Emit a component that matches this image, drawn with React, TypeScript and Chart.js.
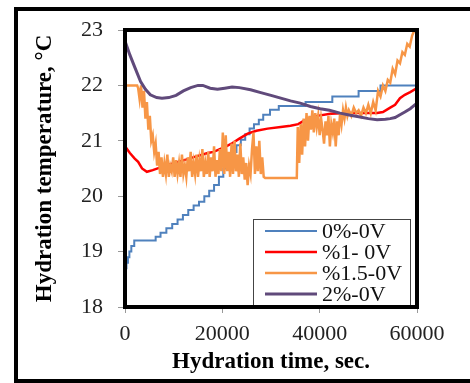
import React, { useEffect, useRef } from "react";
import { Chart, registerables } from "chart.js";

Chart.register(...registerables);

const seriesLabels = ["0%-0V", "%1- 0V", "%1.5-0V", "2%-0V"];
const seriesColors = ["#4f81bd", "#ff0000", "#f79646", "#604a7b"];
const seriesWidths = [2, 2.5, 2.5, 3];

const xTitle = "Hydration time, sec.";
const yTitle = "Hydration temperature, °C";

// 0%-0V (stepped levels)
const blueT = [0, 300, 600, 900, 1300, 1900, 6300, 7300, 8500, 9700, 10800, 11900, 13000, 14100, 15200, 16300, 17300, 18300, 19300, 20200, 21100, 22000, 22900, 23800, 24700, 25600, 26500, 27500, 28400, 29800, 31600, 37100, 42600, 48000, 52500, 60000];
const blueV = [18.7, 18.8, 18.9, 19.0, 19.1, 19.2, 19.27, 19.34, 19.42, 19.5, 19.58, 19.66, 19.75, 19.83, 19.9, 20.0, 20.1, 20.2, 20.35, 20.5, 20.65, 20.8, 20.92, 21.02, 21.12, 21.22, 21.3, 21.38, 21.47, 21.56, 21.63, 21.7, 21.8, 21.9, 22.0, 22.0];

// %1- 0V
const redT = [0, 1000, 2000, 2700, 3500, 4500, 5700, 7600, 9000, 10900, 12500, 14300, 15500, 17000, 18200, 19500, 20800, 22100, 23500, 25200, 27000, 29300, 32000, 34000, 35600, 36700, 38100, 39500, 42200, 45700, 48300, 51800, 53000, 54500, 55500, 56500, 57500, 58600, 60000];
const redV = [20.9, 20.78, 20.68, 20.62, 20.5, 20.44, 20.47, 20.53, 20.57, 20.62, 20.66, 20.71, 20.74, 20.78, 20.8, 20.85, 20.9, 20.96, 21.04, 21.13, 21.18, 21.22, 21.25, 21.27, 21.3, 21.36, 21.41, 21.45, 21.49, 21.5, 21.5, 21.5, 21.52, 21.6, 21.65, 21.77, 21.83, 21.88, 21.95];

// %1.5-0V
const orangeT = [0, 2500, 2700, 3000, 3300, 3600, 3900, 4200, 4500, 4800, 5100, 5400, 5700, 6000, 6300, 6600, 6900,
  7200, 7500, 7800, 8100, 8400, 8700, 9000, 9300, 9600, 9900, 10200, 10500, 10800, 11100, 11400, 11700, 12000, 12300, 12600, 12900,
  13200, 13500, 13800, 14100, 14400, 14700, 15000, 15300, 15600, 15900, 16200, 16500, 16800, 17100, 17400, 17700, 18000, 18300,
  18600, 18900, 19200, 19500, 19800, 20100, 20400, 20700, 21000, 21300, 21600, 21900, 22200, 22500, 22800, 23100, 23400, 23700,
  24000, 24300, 24600, 24900, 25200, 25500, 25800, 26100, 26400, 26700, 27000, 27300, 27600, 27900, 28200, 28500, 28800, 35300,
  35500, 35800, 36100, 36400, 36700, 37000, 37300, 37600, 37900, 38200, 38500, 38800, 39100, 39400, 39700, 40000, 40300, 40600,
  40900, 41200, 41500, 41800, 42100, 42400, 42700, 43000, 43300, 43600, 43900, 44200, 44500, 44800, 45100, 45400, 45700, 46000,
  46500, 47000, 47500, 48000, 48500, 49000, 49500, 50000, 50500, 51000, 51500, 52000, 52500, 53000, 53500, 54000, 54500, 55000,
  55500, 56000, 56500, 57000, 57500, 58000, 58500, 59000, 59500];
const orangeV = [22.0, 22.0, 21.95, 21.75, 22.0, 21.6, 21.9, 21.4, 21.7, 21.2, 21.45, 21.0, 21.1, 20.8, 20.95, 20.55, 20.8,
  20.4, 20.7, 20.35, 20.6, 20.4, 20.75, 20.35, 20.55, 20.45, 20.7, 20.35, 20.65, 20.4, 20.6, 20.35, 20.75, 20.4, 20.55, 20.35, 20.7,
  20.45, 20.8, 20.35, 20.6, 20.4, 20.75, 20.35, 20.65, 20.45, 20.85, 20.35, 20.6, 20.4, 20.8, 20.35, 20.7, 20.45, 20.9,
  20.35, 20.65, 20.4, 20.85, 20.45, 21.15, 20.4, 21.1, 20.45, 20.8, 20.35, 20.95, 20.4, 21.0, 20.45, 20.75, 20.35, 20.95,
  20.4, 20.7, 20.3, 20.6, 20.2, 20.55, 20.4, 20.85, 21.15, 20.4, 20.9, 20.45, 21.0, 20.4, 20.7, 20.35, 20.33, 20.33,
  21.25, 20.6, 21.3, 20.75, 21.4, 20.9, 21.5, 21.0, 21.45, 21.2, 21.55, 21.15, 21.5, 21.25, 21.45, 21.1, 21.4, 21.2,
  20.95, 21.35, 21.1, 21.45, 20.9, 21.3, 21.15, 21.4, 20.9, 21.35, 21.1, 21.5, 21.3, 21.55, 21.4, 21.6, 21.45, 21.55,
  21.45, 21.6, 21.5, 21.55, 21.45, 21.6, 21.5, 21.65, 21.5, 21.7, 21.55, 21.9, 21.8, 22.0, 21.9, 22.1, 22.05, 22.3,
  22.2, 22.45, 22.4, 22.6, 22.55, 22.75, 22.7, 22.9, 23.0];

// 2%-0V
const purpleT = [0, 1000, 2000, 3200, 4200, 5200, 6500, 7600, 9000, 10500, 12000, 13500, 15000, 16000, 17500, 19000, 20500, 22000, 23500, 25800, 27900, 30000, 32000, 34000, 36000, 38100, 40100, 42000, 44200, 46300, 48300, 50000, 51800, 53500, 54500, 55500, 56500, 57500, 58600, 60000];
const purpleV = [22.8, 22.55, 22.33, 22.07, 21.93, 21.83, 21.78, 21.77, 21.78, 21.82, 21.9, 21.96, 22.0, 22.0, 21.95, 21.93, 21.95, 21.97, 21.96, 21.92, 21.87, 21.82, 21.77, 21.72, 21.68, 21.62, 21.58, 21.55, 21.5, 21.46, 21.43, 21.4, 21.38, 21.39, 21.4, 21.42, 21.47, 21.52, 21.58, 21.68];

const xTicksMin = 0;
const xTicksMax = 60000;
const xTickStep = 20000;
const yTicksMin = 18;
const yTicksMax = 23;
const yTickStep = 1;

const zip = (t: number[], v: number[]) => t.map((x, i) => ({ x, y: v[i] }));

const frameAndLegend = {
  id: "frameAndLegend",
  afterDatasetsDraw(chart: any) {
    const { ctx, chartArea } = chart;
    const a = chartArea;
    ctx.save();
    // legend box
    const boxR = a.right - 7;
    const boxL = boxR - 157;
    const boxT = a.bottom - 88;
    ctx.fillStyle = "#fff";
    ctx.fillRect(boxL, boxT, boxR - boxL, a.bottom - boxT);
    ctx.strokeStyle = "#444";
    ctx.lineWidth = 1;
    ctx.strokeRect(boxL + 0.5, boxT + 0.5, boxR - boxL, a.bottom - boxT);
    ctx.font = "22px 'Liberation Serif'";
    ctx.textBaseline = "middle";
    ctx.textAlign = "left";
    chart.data.datasets.forEach((ds: any, i: number) => {
      const y = boxT + 12 + i * 21;
      ctx.strokeStyle = ds.borderColor;
      ctx.lineWidth = ds.borderWidth;
      ctx.beginPath();
      ctx.moveTo(boxL + 12, y);
      ctx.lineTo(boxL + 64, y);
      ctx.stroke();
      ctx.fillStyle = "#111";
      ctx.fillText(ds.label, boxL + 69, y + 1);
    });
    // plot frame
    ctx.strokeStyle = "#000";
    ctx.lineWidth = 4;
    ctx.strokeRect(a.left, a.top, a.right - a.left, a.bottom - a.top);
    ctx.restore();
  },
};

export default function App() {
  const ref = useRef<HTMLCanvasElement>(null);
  useEffect(() => {
    if (!ref.current) return;
    const series = [zip(blueT, blueV), zip(redT, redV), zip(orangeT, orangeV), zip(purpleT, purpleV)];
    const chart = new Chart(ref.current, {
      type: "line",
      data: {
        datasets: series.map((d, i) => ({
          label: seriesLabels[i],
          data: d,
          borderColor: seriesColors[i],
          backgroundColor: seriesColors[i],
          borderWidth: seriesWidths[i],
          pointRadius: 0,
          tension: 0,
          stepped: i === 0 ? true : false,
          order: 4 - i,
        })),
      },
      options: {
        animation: false,
        responsive: false,
        layout: { padding: { left: 0, top: 30, right: 53, bottom: 0 } },
        plugins: { legend: { display: false }, tooltip: { enabled: false } },
        scales: {
          x: {
            type: "linear",
            min: xTicksMin,
            max: xTicksMax,
            afterFit: (s: any) => { s.height = 76; },
            ticks: { stepSize: xTickStep, color: "#222", font: { family: "'Liberation Serif'", size: 22 }, padding: 8, maxRotation: 0, callback: (v: any) => String(v) },
            grid: { drawOnChartArea: false, drawTicks: true, tickLength: 6, color: "#999" },
            border: { display: false },
            title: { display: true, text: xTitle, color: "#000", font: { family: "'Liberation Serif'", size: 23, weight: "bold" }, padding: { top: 0, bottom: 7 } },
          },
          y: {
            min: yTicksMin,
            max: yTicksMax,
            afterFit: (s: any) => { s.width = 125; },
            ticks: { stepSize: yTickStep, color: "#222", font: { family: "'Liberation Serif'", size: 22 }, padding: 15, callback: (v: any) => String(v) },
            grid: { drawOnChartArea: false, drawTicks: true, tickLength: 7, color: "#999" },
            border: { display: false },
            title: { display: true, text: yTitle, color: "#000", font: { family: "'Liberation Serif'", size: 23, weight: "bold" }, padding: { top: 31, bottom: 0 } },
          },
        },
      },
      plugins: [frameAndLegend],
    });
    return () => chart.destroy();
  }, []);
  return (
    <div style={{ position: "absolute", left: 0, top: 0, width: 470, height: 383, background: "#fff" }}>
      <canvas ref={ref} width={470} height={383} style={{ display: "block" }} />
      <div style={{ position: "absolute", left: 14, top: 7, width: 470, height: 368, borderLeft: "4px solid #000", borderTop: "4px solid #000", borderBottom: "4px solid #000", pointerEvents: "none" }} />
    </div>
  );
}
